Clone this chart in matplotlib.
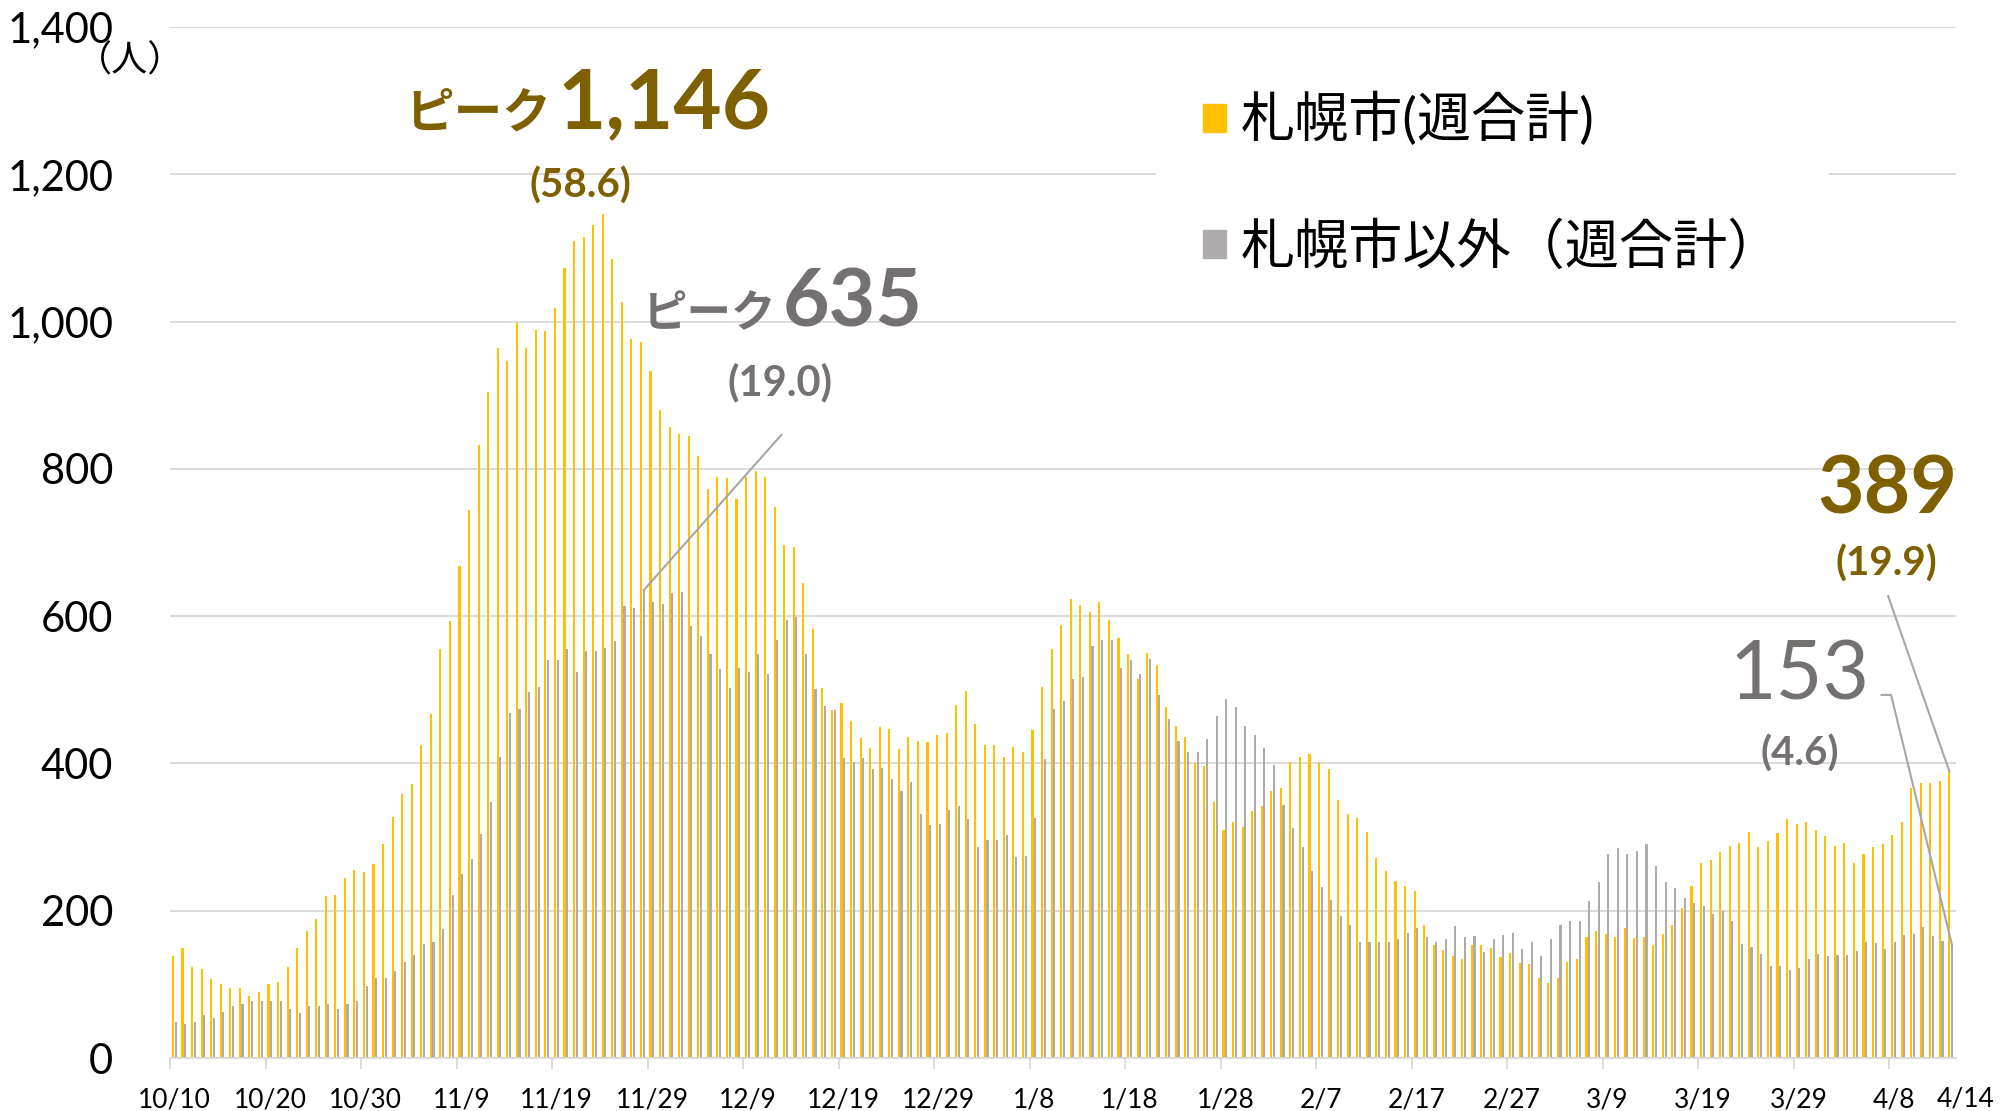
import numpy as np
import matplotlib.pyplot as plt
from matplotlib.patches import Patch

# daily weekly totals, 10/10 - 4/14
sapporo = [138, 149, 123, 121, 107, 100, 95, 95, 84, 90,
           101, 103, 123, 149, 172, 189, 220, 222, 245, 255,
           252, 263, 290, 327, 359, 372, 425, 467, 555, 593,
           668, 744, 832, 905, 964, 947, 998, 964, 988, 987,
           1018, 1073, 1109, 1115, 1131, 1146, 1085, 1026, 976, 972,
           933, 880, 857, 847, 844, 818, 772, 789, 788, 759,
           789, 797, 789, 748, 697, 694, 645, 582, 503, 473,
           482, 458, 435, 421, 449, 447, 419, 436, 430, 429,
           439, 441, 480, 498, 453, 425, 425, 409, 422, 415,
           445, 504, 556, 588, 623, 615, 605, 619, 595, 570,
           548, 514, 550, 534, 476, 451, 436, 400, 396, 347,
           310, 320, 314, 336, 342, 363, 366, 402, 409, 413,
           401, 393, 350, 332, 326, 307, 271, 254, 240, 234,
           227, 180, 153, 147, 139, 134, 154, 154, 150, 137,
           142, 129, 127, 109, 102, 108, 130, 134, 164, 172,
           168, 164, 177, 163, 164, 153, 168, 181, 204, 234,
           265, 269, 280, 288, 292, 307, 287, 294, 306, 325,
           318, 320, 309, 302, 288, 292, 265, 277, 287, 291,
           303, 320, 367, 374, 374, 376, 389]
others = [49, 46, 49, 59, 54, 62, 71, 74, 78, 77,
          77, 77, 67, 61, 71, 71, 73, 67, 74, 77,
          98, 108, 109, 118, 130, 140, 155, 158, 175, 221,
          250, 270, 304, 348, 409, 469, 474, 497, 504, 541,
          541, 555, 524, 553, 553, 557, 566, 614, 611, 635,
          619, 616, 631, 633, 586, 573, 549, 528, 502, 529,
          524, 548, 521, 568, 595, 599, 549, 501, 478, 473,
          407, 402, 408, 392, 394, 379, 363, 375, 332, 317,
          318, 337, 342, 325, 286, 296, 296, 303, 273, 274,
          326, 406, 474, 485, 515, 517, 560, 567, 568, 530,
          541, 522, 542, 493, 460, 431, 416, 415, 433, 465,
          487, 477, 451, 438, 421, 398, 343, 312, 286, 254,
          232, 214, 193, 181, 158, 158, 157, 157, 162, 170,
          177, 164, 158, 161, 179, 164, 165, 144, 161, 167,
          170, 148, 158, 139, 162, 180, 186, 186, 213, 239,
          277, 285, 277, 281, 290, 261, 239, 231, 217, 211,
          206, 195, 199, 186, 155, 151, 141, 125, 125, 119,
          122, 135, 141, 138, 140, 140, 145, 158, 156, 148,
          158, 167, 169, 178, 165, 159, 153]
x_labels = ['10/10', '10/20', '10/30', '11/9', '11/19', '11/29', '12/9',
            '12/19', '12/29', '1/8', '1/18', '1/28', '2/7', '2/17', '2/27',
            '3/9', '3/19', '3/29', '4/8']
last_label = '4/14'
legend_labels = ['札幌市(週合計)', '札幌市以外（週合計）']

YELLOW = '#FFC000'
GRAY = '#AFABAB'
GOLD = '#7F6000'
DGRAY = '#767171'
LEAD = '#A6A6A6'
GRID = '#D9D9D9'

plt.rcParams['font.family'] = ['Lato', 'Noto Sans CJK JP', 'DejaVu Sans']

days = np.arange(len(sapporo))
fig = plt.figure(figsize=(20.11, 11.11), dpi=100)
ax = fig.add_axes([170/2011, 53/1111, 1786/2011, 1031/1111])

ax.bar(days + 0.31, sapporo, width=0.22, color=YELLOW, zorder=2)
ax.bar(days + 0.59, others, width=0.22, color=GRAY, zorder=2)

ax.set_xlim(0, len(days))
ax.set_ylim(0, 1400)
ax.set_yticks(np.arange(0, 1401, 200))
ax.set_yticklabels([f'{v:,}' for v in range(0, 1401, 200)])
ax.yaxis.grid(True, color=GRID, lw=1.3)
ax.set_axisbelow(True)
ax.tick_params(axis='y', length=0, pad=41, labelsize=30)

ax.set_xticks(np.arange(0, len(days), 10))
ax.set_xticklabels([])
ax.set_xticks(np.arange(0, len(days), 10) + 0.5, minor=True)
ax.set_xticklabels(x_labels, minor=True)
ax.tick_params(axis='x', which='major', length=8, width=1.3, color=GRID)
ax.tick_params(axis='x', which='minor', length=0, pad=21, labelsize=19)
ax.text(len(days) + 1.0, -0.028, last_label, transform=ax.get_xaxis_transform(),
        ha='center', va='top', fontsize=19)

for s in ['top', 'right', 'left']:
    ax.spines[s].set_visible(False)
ax.spines['bottom'].set_color(GRID)
ax.spines['bottom'].set_linewidth(1.3)

fig.text(130/2011, 1 - 62/1111, '（人）', ha='center', va='center', fontsize=26,
         family=['Noto Sans CJK JP'])

# Sapporo peak
pk = int(np.argmax(sapporo))
ax.text(39.9, 1263, 'ピーク', ha='right', va='baseline', fontsize=35,
        fontweight='bold', color=GOLD)
ax.text(40.6, 1263, f'{sapporo[pk]:,}', ha='left', va='baseline', fontsize=60,
        fontweight='bold', color=GOLD)
ax.text(43.0, 1184, '(58.6)', ha='center', va='center', fontsize=29,
        fontweight='bold', color=GOLD)

# outside Sapporo peak
gpk = int(np.argmax(others))
ax.text(63.5, 993, 'ピーク', ha='right', va='baseline', fontsize=32,
        fontweight='bold', color=DGRAY)
ax.text(64.1, 993, f'{others[gpk]}', ha='left', va='baseline', fontsize=58,
        fontweight='bold', color=DGRAY)
ax.text(63.9, 918, '(19.0)', ha='center', va='center', fontsize=30,
        fontweight='bold', color=DGRAY)
ax.plot([64.0, gpk + 0.59], [846, others[gpk]], color=LEAD, lw=1.5, zorder=3)

# latest values
n = len(days) - 1
ax.text(187.1, 740, f'{sapporo[-1]}', ha='right', va='baseline', fontsize=58,
        fontweight='bold', color=GOLD)
ax.text(179.7, 671, '(19.9)', ha='center', va='center', fontsize=29,
        fontweight='bold', color=GOLD)
ax.plot([179.9, n + 0.31], [627, sapporo[-1]], color=LEAD, lw=1.5, zorder=3)

ax.text(163.3, 487, f'{others[-1]}', ha='left', va='baseline', fontsize=58,
        color=DGRAY)
ax.text(170.6, 413, '(4.6)', ha='center', va='center', fontsize=29,
        fontweight='bold', color=DGRAY)
ax.plot([179.2, 180.2, n + 0.59], [493, 493, others[-1]], color=LEAD, lw=1.5, zorder=3)

handles = [Patch(color=YELLOW), Patch(color=GRAY)]
leg = ax.legend(handles, legend_labels, loc='upper left',
                bbox_to_anchor=(1156/2011, 1 - 45/1111), bbox_transform=fig.transFigure,
                fontsize=39, handlelength=0.42, handleheight=0.42, handletextpad=0.28,
                labelspacing=1.38, borderpad=0.87, borderaxespad=0, frameon=True,
                fancybox=False, edgecolor='none', facecolor='white', framealpha=1)

fig.savefig('out.png', dpi=100)
